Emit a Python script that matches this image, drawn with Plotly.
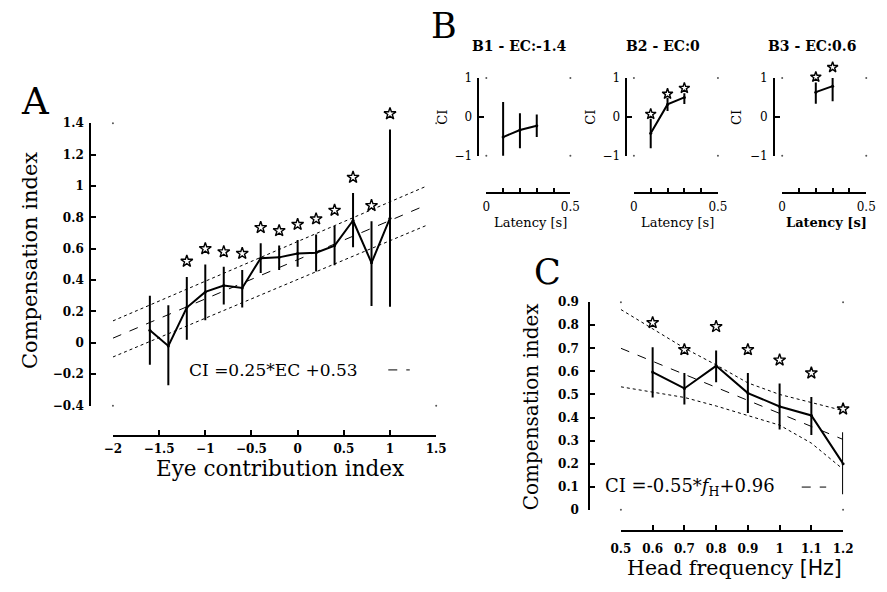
import plotly.graph_objects as go

W, H = 887, 592

# ---------------- Panel A data ----------------
ec = [-1.6, -1.4, -1.2, -1.0, -0.8, -0.6, -0.4, -0.2, 0.0, 0.2, 0.4, 0.6, 0.8, 1.0]
ci_a = [0.08, -0.02, 0.225, 0.325, 0.365, 0.35, 0.54, 0.545, 0.57, 0.575, 0.62, 0.78, 0.51, 0.795]
ci_a_hi = [0.30, 0.24, 0.42, 0.50, 0.485, 0.465, 0.635, 0.62, 0.655, 0.69, 0.745, 0.955, 0.775, 1.36]
ci_a_lo = [-0.14, -0.27, 0.02, 0.145, 0.245, 0.225, 0.445, 0.465, 0.485, 0.455, 0.495, 0.61, 0.235, 0.23]
star_a_x = [-1.2, -1.0, -0.8, -0.6, -0.4, -0.2, 0.0, 0.2, 0.4, 0.6, 0.8, 1.0]
star_a_y = [0.52, 0.60, 0.58, 0.57, 0.735, 0.715, 0.755, 0.79, 0.845, 1.055, 0.875, 1.46]
fit_a_x = [-2.0, 1.4]
fit_a_y = [0.03, 0.88]
band_a_hi = [0.14, 1.0]
band_a_lo = [-0.09, 0.75]
a_xticks = [-2, -1.5, -1, -0.5, 0, 0.5, 1, 1.5]
a_yticks = [-0.4, -0.2, 0, 0.2, 0.4, 0.6, 0.8, 1, 1.2, 1.4]

# ---------------- Panel B data ----------------
b_titles = ["B1 - EC:-1.4", "B2 - EC:0", "B3 - EC:0.6"]
b1_lat = [0.1, 0.2, 0.3]
b1_ci = [-0.52, -0.34, -0.23]
b1_hi = [0.38, 0.09, 0.06]
b1_lo = [-1.42, -0.81, -0.52]
b2_lat = [0.1, 0.2, 0.3]
b2_ci = [-0.42, 0.32, 0.50]
b2_hi = [-0.05, 0.49, 0.61]
b2_lo = [-0.81, 0.15, 0.33]
b2_star_y = [0.07, 0.59, 0.74]
b3_lat = [0.2, 0.3]
b3_ci = [0.635, 0.79]
b3_hi = [0.885, 1.15]
b3_lo = [0.335, 0.40]
b3_star_y = [1.025, 1.275]
b_xticks = [0, 0.1, 0.2, 0.3, 0.4, 0.5]
b_xlabels = ["0", " ", " ", " ", " ", "0.5"]
b_yticks = [-1, 0, 1]

# ---------------- Panel C data ----------------
freq = [0.6, 0.7, 0.8, 0.9, 1.0, 1.1, 1.2]
ci_c = [0.597, 0.526, 0.624, 0.506, 0.448, 0.409, 0.20]
ci_c_hi = [0.705, 0.593, 0.691, 0.593, 0.547, 0.489, 0.336]
ci_c_lo = [0.487, 0.456, 0.553, 0.42, 0.348, 0.324, 0.068]
star_c_y = [0.811, 0.694, 0.794, 0.694, 0.649, 0.593, 0.437]
fit_c_x = [0.5, 1.2]
fit_c_y = [0.70, 0.305]
band_c_x = [0.5, 0.6, 0.7, 0.8, 0.9, 1.0, 1.1, 1.2]
band_c_hi = [0.868, 0.786, 0.701, 0.628, 0.55, 0.50, 0.465, 0.43]
band_c_lo = [0.533, 0.51, 0.487, 0.45, 0.409, 0.367, 0.289, 0.176]
c_xticks = [0.5, 0.6, 0.7, 0.8, 0.9, 1.0, 1.1, 1.2]
c_yticks = [0, 0.1, 0.2, 0.3, 0.4, 0.5, 0.6, 0.7, 0.8, 0.9]

SERIF = "DejaVu Serif"
tick_bold = dict(family=SERIF, size=12, color="black", weight="bold")
tick_reg = dict(family=SERIF, size=12, color="black")


def fx(p):
    return p / W


def fy(p):
    return 1 - p / H


def xaxis(dom, rng, pos, tickvals, ticktext=None, font=tick_bold, ticklen=5, standoff=2):
    d = dict(domain=[fx(dom[0]), fx(dom[1])], range=rng, anchor="free", position=fy(pos),
             showline=True, linecolor="black", linewidth=2, ticks="inside", ticklen=ticklen,
             tickwidth=2, tickcolor="black", tickvals=tickvals, showgrid=False, zeroline=False,
             tickfont=font, fixedrange=True, ticklabelstandoff=standoff)
    if ticktext is not None:
        d["ticktext"] = ticktext
    return d


def yaxis(dom, rng, pos, tickvals, font=tick_bold, ticklen=5, standoff=2):
    return dict(domain=[fy(dom[1]), fy(dom[0])], range=rng, anchor="free", position=fx(pos),
                showline=True, linecolor="black", linewidth=2, ticks="inside", ticklen=ticklen,
                tickwidth=2, tickcolor="black", tickvals=tickvals, showgrid=False, zeroline=False,
                tickfont=font, fixedrange=True, ticklabelstandoff=standoff)


def star_axis(dom, rng, extra):
    # invisible axis with the same scale as (dom, rng) but taller, so stars above the frame show
    per_px = (rng[1] - rng[0]) / (dom[1] - dom[0])
    return dict(domain=[fy(dom[1]), fy(dom[0] - extra)], range=[rng[0], rng[1] + extra * per_px],
                anchor="free", position=0, visible=False, fixedrange=True)


fig = go.Figure()


def add_series(x, m, hi, lo, xa, ya, lw=2):
    fig.add_trace(go.Scatter(
        x=x, y=m, xaxis=xa, yaxis=ya, mode="lines+markers",
        line=dict(color="black", width=lw), marker=dict(color="black", size=3),
        error_y=dict(type="data", symmetric=False,
                     array=[h - v for h, v in zip(hi, m)],
                     arrayminus=[v - l for v, l in zip(m, lo)],
                     width=0, thickness=2, color="black"),
        cliponaxis=False, hoverinfo="skip"))


def add_stars(x, y, xa, ya, size=9):
    fig.add_trace(go.Scatter(
        x=x, y=y, xaxis=xa, yaxis=ya, mode="markers",
        marker=dict(symbol="star-open", size=size, color="black", line=dict(width=1.4, color="black")),
        cliponaxis=False, hoverinfo="skip"))


def add_line(x, y, xa, ya, dash, width=1):
    fig.add_trace(go.Scatter(x=x, y=y, xaxis=xa, yaxis=ya, mode="lines",
                             line=dict(color="black", width=width, dash=dash),
                             hoverinfo="skip"))


def add_corners(rx, ry, xa, ya):
    # the small frame-corner dots of the original plotting program
    fig.add_trace(go.Scatter(x=[rx[0], rx[1], rx[0], rx[1]], y=[ry[0], ry[0], ry[1], ry[1]],
                             xaxis=xa, yaxis=ya, mode="markers",
                             marker=dict(color="#555555", size=2), cliponaxis=False,
                             hoverinfo="skip"))


A_DOM_X, A_RX, A_POSY = (105.3, 436), [-2, 1.5], 439.3
A_DOM_Y, A_RY, A_POSX = (119, 408.3), [-0.4, 1.4], 82
C_DOM_X, C_RX, C_POSY = (625, 852.3), [0.5, 1.2], 536.7
C_DOM_Y, C_RY, C_POSX = (302.3, 515), [0, 0.9], 592.7
B_DOM_Y, B_RY, B_RX = (72.7, 152.3), [-1, 1], [0, 0.5]
b_x0 = [487.3, 638.3, 790]
b_yl = [479.3, 630.7, 781.7]

# Panel A
add_corners(A_RX, A_RY, "x", "y")
add_line(fit_a_x, band_a_hi, "x", "y", "dot")
add_line(fit_a_x, band_a_lo, "x", "y", "dot")
add_line(fit_a_x, fit_a_y, "x", "y", "dash")
add_series(ec, ci_a, ci_a_hi, ci_a_lo, "x", "y")
add_stars(star_a_x, star_a_y, "x", "y6")

# Panel B
for xa, ya in (("x2", "y2"), ("x3", "y3"), ("x4", "y4")):
    add_corners(B_RX, B_RY, xa, ya)
add_series(b1_lat, b1_ci, b1_hi, b1_lo, "x2", "y2")
add_series(b2_lat, b2_ci, b2_hi, b2_lo, "x3", "y3")
add_stars(b2_lat, b2_star_y, "x3", "y7", 8)
add_series(b3_lat, b3_ci, b3_hi, b3_lo, "x4", "y4")
add_stars(b3_lat, b3_star_y, "x4", "y8", 8)

# Panel C
add_corners(C_RX, C_RY, "x5", "y5")
add_line(band_c_x, band_c_hi, "x5", "y5", "dot")
add_line(band_c_x, band_c_lo, "x5", "y5", "dot")
add_line(fit_c_x, fit_c_y, "x5", "y5", "dash")
add_series(freq, ci_c, ci_c_hi, ci_c_lo, "x5", "y5")
add_stars(freq, star_c_y, "x5", "y9")

layout = dict(
    width=W, height=H, margin=dict(l=0, r=0, t=0, b=0),
    paper_bgcolor="white", plot_bgcolor="rgba(0,0,0,0)", showlegend=False,
    xaxis=xaxis(A_DOM_X, A_RX, A_POSY, a_xticks),
    yaxis=yaxis(A_DOM_Y, A_RY, A_POSX, a_yticks, standoff=3),
    xaxis5=xaxis(C_DOM_X, C_RX, C_POSY, c_xticks, standoff=7),
    yaxis5=yaxis(C_DOM_Y, C_RY, C_POSX, c_yticks, standoff=7),
    yaxis6=star_axis(A_DOM_Y, A_RY, 40),
    yaxis7=star_axis(B_DOM_Y, B_RY, 30),
    yaxis8=star_axis(B_DOM_Y, B_RY, 30),
    yaxis9=star_axis(C_DOM_Y, C_RY, 30),
)
for i in range(3):
    n = i + 2
    layout["xaxis%d" % n] = xaxis((b_x0[i], b_x0[i] + 86), B_RX, 191, b_xticks, b_xlabels,
                                  font=tick_reg, ticklen=4, standoff=2)
    layout["yaxis%d" % n] = yaxis(B_DOM_Y, B_RY, b_yl[i], b_yticks, font=tick_reg, standoff=3)

ann = []


def text(t, x, y, size, angle=0, weight="normal", family=SERIF):
    ann.append(dict(text=t, x=fx(x), y=fy(y), xref="paper", yref="paper", showarrow=False,
                    xanchor="center", yanchor="middle", textangle=angle,
                    font=dict(family=family, size=size, color="black", weight=weight)))


text("A", 26.5, 96.5, 37)
text("B", 443.5, 19.5, 35)
text("C", 549.5, 271.5, 35)
text("Compensation index", 20.7, 260, 21, angle=-90)
text("Eye contribution index", 276, 473, 21.5)
text("CI =0.25*EC +0.53", 269.5, 371.7, 17)
text("Compensation index", 533, 409, 20, angle=-90)
text('Head frequency <span style="font-family:DejaVu Sans">[Hz]</span>', 741, 575, 20.5)
text("CI =-0.55*<i>f</i><sub>H</sub>+0.96", 696, 491.7, 18)
b_tx = [521, 668.5, 821]
b_ly = [441.7, 593, 742.7]
for i in range(3):
    text(b_titles[i], b_tx[i], 40, 14, weight="bold")
    text("CI", b_ly[i], 112.7, 13, angle=-90)
    text("Latency [s]", b_x0[i] + 45, 221, 13, weight="bold" if i == 2 else "normal")

shapes = [
    dict(type="line", xref="paper", yref="paper", x0=fx(387), x1=fx(409), y0=fy(371.7), y1=fy(371.7),
         line=dict(color="black", width=1, dash="dash")),
    dict(type="line", xref="paper", yref="paper", x0=fx(810), x1=fx(835), y0=fy(491.7), y1=fy(491.7),
         line=dict(color="black", width=1, dash="dash")),
]
layout["annotations"] = ann
layout["shapes"] = shapes
fig.update_layout(**layout)
fig.write_html("out.html")
